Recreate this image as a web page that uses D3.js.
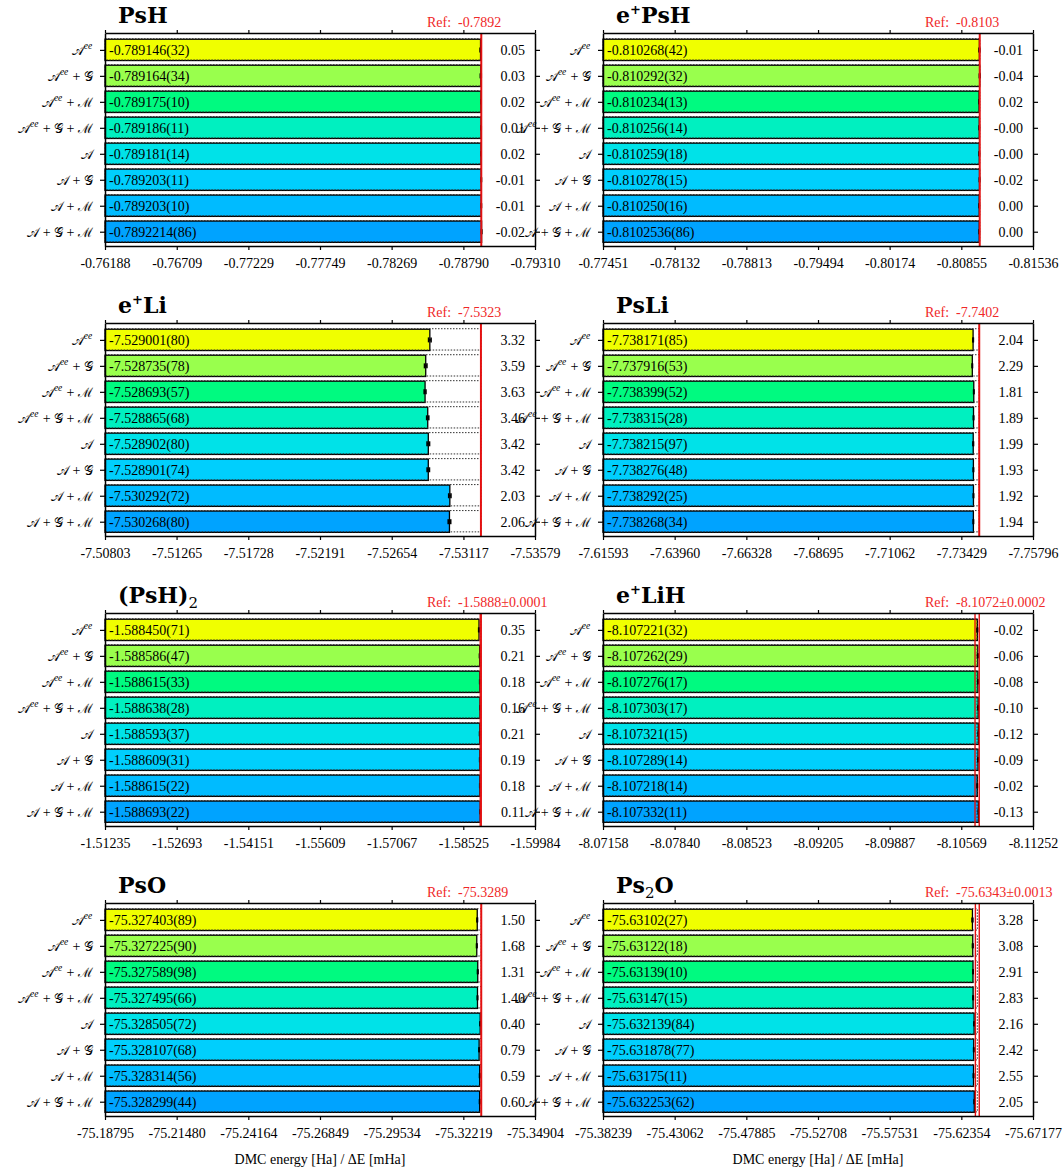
<!DOCTYPE html>
<html>
<head>
<meta charset="utf-8">
<script src="https://cdn.jsdelivr.net/npm/d3@7"></script>
<style>
  html, body { margin: 0; padding: 0; background: #fff; }
  svg text { font-family: "Liberation Serif", "DejaVu Serif", serif; }
</style>
</head>
<body>
<svg id="chart" width="1064" height="1171"></svg>
<script>
// ---- methods (rows, top to bottom): symbol tokens joined by " + " ----
const methodTerms = [
  [["𝒜", "ee"]],
  [["𝒜", "ee"], ["𝒢", ""]],
  [["𝒜", "ee"], ["ℳ", ""]],
  [["𝒜", "ee"], ["𝒢", ""], ["ℳ", ""]],
  [["𝒜", ""]],
  [["𝒜", ""], ["𝒢", ""]],
  [["𝒜", ""], ["ℳ", ""]],
  [["𝒜", ""], ["𝒢", ""], ["ℳ", ""]]
];
const barColors = ["#f0ff00", "#99ff4d", "#00fa80", "#00f0c0", "#00e2e8", "#00cffd", "#00bbff", "#00a3ff"];

// ---- systems ----
const titles = [
  [["PsH", ""]],
  [["e", ""], ["+", "sup"], ["PsH", ""]],
  [["e", ""], ["+", "sup"], ["Li", ""]],
  [["PsLi", ""]],
  [["(PsH)", ""], ["2", "sub"]],
  [["e", ""], ["+", "sup"], ["LiH", ""]],
  [["PsO", ""]],
  [["Ps", ""], ["2", "sub"], ["O", ""]]
];
const refValues = [-0.7892, -0.8103, -7.5323, -7.7402, -1.5888, -8.1072, -75.3289, -75.6343];
const refErrors = [0, 0, 0, 0, 0.0001, 0.0002, 0, 0.0013];
const refLabels = ["Ref:  -0.7892", "Ref:  -0.8103", "Ref:  -7.5323", "Ref:  -7.7402",
  "Ref:  -1.5888±0.0001", "Ref:  -8.1072±0.0002", "Ref:  -75.3289", "Ref:  -75.6343±0.0013"];

// DMC energies as printed, value(error in last digits)
const energiesPsH = ["-0.789146(32)", "-0.789164(34)", "-0.789175(10)", "-0.789186(11)", "-0.789181(14)", "-0.789203(11)", "-0.789203(10)", "-0.7892214(86)"];
const energiesEPsH = ["-0.810268(42)", "-0.810292(32)", "-0.810234(13)", "-0.810256(14)", "-0.810259(18)", "-0.810278(15)", "-0.810250(16)", "-0.8102536(86)"];
const energiesELi = ["-7.529001(80)", "-7.528735(78)", "-7.528693(57)", "-7.528865(68)", "-7.528902(80)", "-7.528901(74)", "-7.530292(72)", "-7.530268(80)"];
const energiesPsLi = ["-7.738171(85)", "-7.737916(53)", "-7.738399(52)", "-7.738315(28)", "-7.738215(97)", "-7.738276(48)", "-7.738292(25)", "-7.738268(34)"];
const energiesPsH2 = ["-1.588450(71)", "-1.588586(47)", "-1.588615(33)", "-1.588638(28)", "-1.588593(37)", "-1.588609(31)", "-1.588615(22)", "-1.588693(22)"];
const energiesELiH = ["-8.107221(32)", "-8.107262(29)", "-8.107276(17)", "-8.107303(17)", "-8.107321(15)", "-8.107289(14)", "-8.107218(14)", "-8.107332(11)"];
const energiesPsO = ["-75.327403(89)", "-75.327225(90)", "-75.327589(98)", "-75.327495(66)", "-75.328505(72)", "-75.328107(68)", "-75.328314(56)", "-75.328299(44)"];
const energiesPs2O = ["-75.63102(27)", "-75.63122(18)", "-75.63139(10)", "-75.63147(15)", "-75.632139(84)", "-75.631878(77)", "-75.63175(11)", "-75.632253(62)"];

// energy differences to reference, mHa
const deltaPsH = ["0.05", "0.03", "0.02", "0.01", "0.02", "-0.01", "-0.01", "-0.02"];
const deltaEPsH = ["-0.01", "-0.04", "0.02", "-0.00", "-0.00", "-0.02", "0.00", "0.00"];
const deltaELi = ["3.32", "3.59", "3.63", "3.46", "3.42", "3.42", "2.03", "2.06"];
const deltaPsLi = ["2.04", "2.29", "1.81", "1.89", "1.99", "1.93", "1.92", "1.94"];
const deltaPsH2 = ["0.35", "0.21", "0.18", "0.16", "0.21", "0.19", "0.18", "0.11"];
const deltaELiH = ["-0.02", "-0.06", "-0.08", "-0.10", "-0.12", "-0.09", "-0.02", "-0.13"];
const deltaPsO = ["1.50", "1.68", "1.31", "1.40", "0.40", "0.79", "0.59", "0.60"];
const deltaPs2O = ["3.28", "3.08", "2.91", "2.83", "2.16", "2.42", "2.55", "2.05"];

// x-axis tick labels
const ticksPsH = ["-0.76188", "-0.76709", "-0.77229", "-0.77749", "-0.78269", "-0.78790", "-0.79310"];
const ticksEPsH = ["-0.77451", "-0.78132", "-0.78813", "-0.79494", "-0.80174", "-0.80855", "-0.81536"];
const ticksELi = ["-7.50803", "-7.51265", "-7.51728", "-7.52191", "-7.52654", "-7.53117", "-7.53579"];
const ticksPsLi = ["-7.61593", "-7.63960", "-7.66328", "-7.68695", "-7.71062", "-7.73429", "-7.75796"];
const ticksPsH2 = ["-1.51235", "-1.52693", "-1.54151", "-1.55609", "-1.57067", "-1.58525", "-1.59984"];
const ticksELiH = ["-8.07158", "-8.07840", "-8.08523", "-8.09205", "-8.09887", "-8.10569", "-8.11252"];
const ticksPsO = ["-75.18795", "-75.21480", "-75.24164", "-75.26849", "-75.29534", "-75.32219", "-75.34904"];
const ticksPs2O = ["-75.38239", "-75.43062", "-75.47885", "-75.52708", "-75.57531", "-75.62354", "-75.67177"];

const energies = [energiesPsH, energiesEPsH, energiesELi, energiesPsLi, energiesPsH2, energiesELiH, energiesPsO, energiesPs2O];
const deltas = [deltaPsH, deltaEPsH, deltaELi, deltaPsLi, deltaPsH2, deltaELiH, deltaPsO, deltaPs2O];
const tickLabels = [ticksPsH, ticksEPsH, ticksELi, ticksPsLi, ticksPsH2, ticksELiH, ticksPsO, ticksPs2O];

// "-0.789146(32)" -> {value, error}
function parseEnergy(s) {
  const m = s.match(/^(-?\d+)\.(\d+)\((\d+)\)$/);
  const decimals = m[2].length;
  return { value: +(m[1] + "." + m[2]), error: +m[3] * Math.pow(10, -decimals) };
}

// ---- layout ----
const svg = d3.select("#chart");
const plotLefts = [105, 603];
const plotWidth = 430;
const plotTop0 = 33, rowStep = 290, plotHeight = 213;
const axisLabel = "DMC energy [Ha] / ΔE [mHa]";

for (let p = 0; p < 8; p++) {
  const col = p % 2, row = Math.floor(p / 2);
  const left = plotLefts[col];
  const top = plotTop0 + rowStep * row;
  const g = svg.append("g");

  const tickVals = tickLabels[p].map(Number);
  const x = d3.scaleLinear().domain([tickVals[0], tickVals[tickVals.length - 1]]).range([left, left + plotWidth]);
  const y = d3.scaleLinear().domain([0.35, 8.55]).range([top, top + plotHeight]);
  const barH = y(0.82) - y(0);
  const rows = energies[p].map((s, i) => Object.assign({ label: s, idx: i + 1, delta: deltas[p][i] }, parseEnergy(s)));
  const ref = refValues[p];

  // coloured DMC bars
  g.selectAll("rect.bar").data(rows).enter().append("rect")
    .attr("class", "bar")
    .attr("x", x(tickVals[0]))
    .attr("y", d => y(d.idx) - barH / 2)
    .attr("width", d => x(d.value) - x(tickVals[0]))
    .attr("height", barH)
    .attr("fill", (d, i) => barColors[i])
    .attr("stroke", "#000")
    .attr("stroke-width", 1.3);

  // dotted reference bars
  g.selectAll("rect.refbar").data(rows).enter().append("rect")
    .attr("class", "refbar")
    .attr("x", x(tickVals[0]))
    .attr("y", d => y(d.idx) - barH / 2 - 0.5)
    .attr("width", x(ref) - x(tickVals[0]))
    .attr("height", barH)
    .attr("fill", "none")
    .attr("stroke", "#333")
    .attr("stroke-width", 1)
    .attr("stroke-dasharray", "1.5,1.5");

  // statistical error bars
  const eb = g.selectAll("g.err").data(rows).enter().append("g").attr("class", "err");
  eb.append("line")
    .attr("x1", d => x(d.value - d.error)).attr("x2", d => x(d.value + d.error))
    .attr("y1", d => y(d.idx)).attr("y2", d => y(d.idx))
    .attr("stroke", "#000").attr("stroke-width", 1.5);
  [-1, 1].forEach(sgn => {
    eb.append("line")
      .attr("x1", d => x(d.value + sgn * d.error)).attr("x2", d => x(d.value + sgn * d.error))
      .attr("y1", d => y(d.idx) - 2.5).attr("y2", d => y(d.idx) + 2.5)
      .attr("stroke", "#000").attr("stroke-width", 1.6);
  });

  // energy labels inside bars
  g.selectAll("text.val").data(rows).enter().append("text")
    .attr("x", left + 4).attr("y", d => y(d.idx) + 5)
    .attr("font-size", 14).attr("fill", "#000")
    .text(d => d.label);

  // ΔE labels on the right
  g.selectAll("text.delta").data(rows).enter().append("text")
    .attr("x", left + plotWidth - 10).attr("y", d => y(d.idx) + 5)
    .attr("text-anchor", "end")
    .attr("font-size", 14).attr("fill", "#000")
    .text(d => d.delta);

  // reference energy line (with uncertainty band where given)
  const rErr = refErrors[p];
  if (rErr > 0) {
    g.append("rect")
      .attr("x", x(ref - rErr)).attr("width", Math.max(0.5, x(ref + rErr) - x(ref - rErr)))
      .attr("y", top).attr("height", plotHeight)
      .attr("fill", "#f46060");
    [ref - rErr, ref + rErr].forEach(v => {
      g.append("line").attr("x1", x(v)).attr("x2", x(v)).attr("y1", top).attr("y2", top + plotHeight)
        .attr("stroke", "#e41010").attr("stroke-width", 1.4);
    });
  } else {
    g.append("line").attr("x1", x(ref)).attr("x2", x(ref)).attr("y1", top).attr("y2", top + plotHeight)
      .attr("stroke", "#e41010").attr("stroke-width", 2);
  }

  // axes
  const styleAxis = sel => {
    sel.select(".domain").attr("stroke", "#000").attr("stroke-width", 1.5);
    sel.selectAll(".tick line").attr("stroke", "#000").attr("stroke-width", 1.2);
  };
  g.append("g").attr("transform", `translate(0,${top + plotHeight})`)
    .call(d3.axisBottom(x).tickValues(tickVals).tickSizeInner(4).tickSizeOuter(0).tickPadding(8)
      .tickFormat((d, i) => tickLabels[p][i]))
    .call(styleAxis)
    .call(a => a.selectAll(".tick text").attr("font-size", 14).attr("fill", "#000")
      .style("font-family", "'Liberation Serif', serif"));
  g.append("g").attr("transform", `translate(0,${top})`)
    .call(d3.axisTop(x).tickValues(tickVals).tickSizeInner(3).tickSizeOuter(0).tickFormat(""))
    .call(styleAxis);
  g.append("g").attr("transform", `translate(${left},0)`)
    .call(d3.axisLeft(y).tickValues(d3.range(1, 9)).tickSizeInner(5).tickSizeOuter(0).tickFormat(""))
    .call(styleAxis);
  g.append("g").attr("transform", `translate(${left + plotWidth},0)`)
    .call(d3.axisRight(y).tickValues(d3.range(1, 9)).tickSizeInner(5).tickSizeOuter(0).tickFormat(""))
    .call(styleAxis);

  // method labels: calligraphic symbols joined by " + "
  rows.forEach((d, i) => {
    const t = g.append("text")
      .attr("x", left - 12).attr("y", y(d.idx) + 5)
      .attr("text-anchor", "end").attr("font-size", 14);
    methodTerms[i].forEach(([sym, sup], k) => {
      if (k > 0) t.append("tspan").attr("font-size", 14).style("white-space", "pre").text(" + ");
      t.append("tspan").attr("font-size", 13).text(sym);
      if (sup) {
        t.append("tspan").attr("dy", -6).attr("font-size", 9.5).style("font-style", "italic").text(sup);
        t.append("tspan").attr("dy", 6).attr("font-size", 9).text("\u200a");
      }
    });
  });

  // title
  const title = g.append("text").attr("x", left + 13).attr("y", top - 10)
    .style("font-family", "'DejaVu Serif', serif")
    .attr("font-size", 22).attr("font-weight", "bold");
  let shift = 0;
  titles[p].forEach(([txt, kind]) => {
    let dy = 0, size = 22, weight = "bold";
    if (kind === "sup") { dy = -9; size = 13; }
    if (kind === "sub") { dy = 5; size = 15; weight = "normal"; }
    title.append("tspan").attr("dy", dy - shift).attr("font-size", size).attr("font-weight", weight).text(txt);
    shift = dy;
  });

  // reference value label
  g.append("text").attr("x", left + 322).attr("y", top - 6)
    .attr("font-size", 14).attr("fill", "#f02828")
    .style("white-space", "pre")
    .text(refLabels[p]);

  // x-axis title on the bottom row
  if (row === 3) {
    g.append("text").attr("x", left + plotWidth / 2).attr("y", top + plotHeight + 48)
      .attr("text-anchor", "middle").attr("font-size", 14).text(axisLabel);
  }
}
</script>
</body>
</html>
